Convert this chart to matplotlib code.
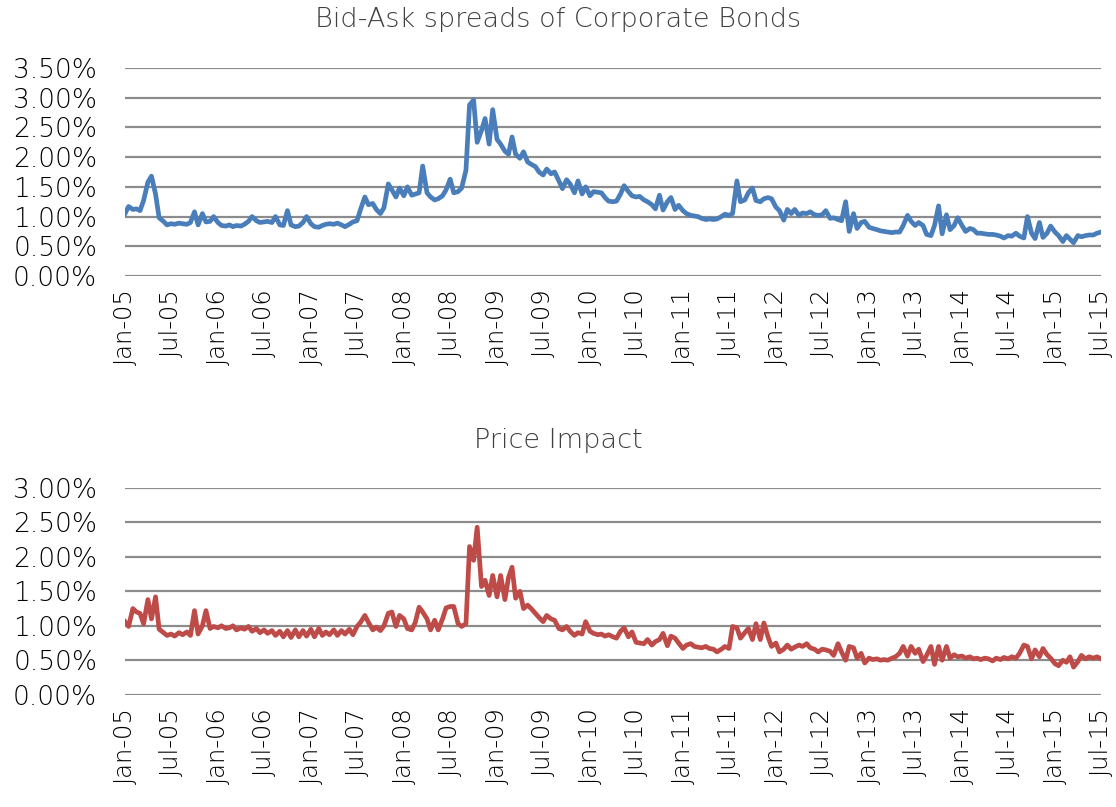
import numpy as np
import pandas as pd
import matplotlib
matplotlib.use("Agg")
import matplotlib.pyplot as plt
from matplotlib import font_manager
from matplotlib.ticker import FuncFormatter

# semi-monthly observations, Jan-05 .. Jul-15 (values in %)
dates = pd.date_range("2005-01-01", periods=253, freq="SMS")

bid_ask = [
    # 2005
    1.05, 1.17, 1.12, 1.13, 1.10, 1.27, 1.58, 1.68, 1.38, 0.98, 0.92, 0.86,
    0.88, 0.87, 0.89, 0.88, 0.87, 0.90, 1.08, 0.86, 1.05, 0.91, 0.92, 1.00,
    # 2006
    0.90, 0.85, 0.84, 0.86, 0.83, 0.85, 0.84, 0.87, 0.92, 1.00, 0.93, 0.90,
    0.91, 0.92, 0.90, 1.00, 0.86, 0.85, 1.10, 0.86, 0.83, 0.84, 0.90, 1.00,
    # 2007
    0.88, 0.83, 0.82, 0.85, 0.87, 0.88, 0.87, 0.89, 0.86, 0.83, 0.87, 0.91,
    0.93, 1.12, 1.33, 1.20, 1.22, 1.12, 1.05, 1.15, 1.55, 1.45, 1.33, 1.48,
    # 2008
    1.35, 1.50, 1.36, 1.38, 1.40, 1.85, 1.40, 1.33, 1.28, 1.30, 1.35, 1.45,
    1.63, 1.40, 1.42, 1.48, 1.78, 2.88, 2.96, 2.25, 2.45, 2.65, 2.22, 2.80,
    # 2009
    2.30, 2.22, 2.10, 2.05, 2.34, 2.05, 1.98, 2.09, 1.92, 1.88, 1.84, 1.75,
    1.70, 1.80, 1.72, 1.75, 1.60, 1.47, 1.62, 1.55, 1.40, 1.60, 1.38, 1.50,
    # 2010
    1.35, 1.42, 1.41, 1.40, 1.32, 1.26, 1.25, 1.26, 1.38, 1.52, 1.42, 1.35,
    1.33, 1.34, 1.28, 1.25, 1.20, 1.13, 1.36, 1.11, 1.25, 1.32, 1.12, 1.19,
    # 2011
    1.10, 1.05, 1.02, 1.01, 1.00, 0.97, 0.95, 0.96, 0.95, 0.96, 1.00, 1.04,
    1.02, 1.05, 1.60, 1.25, 1.28, 1.40, 1.48, 1.27, 1.25, 1.30, 1.32, 1.30,
    # 2012
    1.16, 1.10, 0.94, 1.12, 1.05, 1.12, 1.02, 1.06, 1.05, 1.08, 1.03, 1.02,
    1.03, 1.10, 0.97, 0.98, 0.95, 0.93, 1.25, 0.75, 1.05, 0.80, 0.90, 0.92,
    # 2013
    0.82, 0.80, 0.78, 0.76, 0.75, 0.74, 0.73, 0.74, 0.74, 0.85, 1.02, 0.92,
    0.85, 0.90, 0.85, 0.70, 0.68, 0.85, 1.18, 0.71, 1.03, 0.78, 0.85, 0.98,
    # 2014
    0.85, 0.75, 0.80, 0.78, 0.72, 0.72, 0.71, 0.70, 0.70, 0.69, 0.67, 0.64,
    0.68, 0.67, 0.72, 0.67, 0.64, 1.00, 0.72, 0.63, 0.90, 0.65, 0.72, 0.84,
    # 2015
    0.74, 0.68, 0.58, 0.68, 0.62, 0.56, 0.68, 0.66, 0.68, 0.69, 0.69, 0.72,
    0.74,
]

price_impact = [
    # 2005
    1.06, 0.99, 1.25, 1.20, 1.18, 1.03, 1.38, 1.10, 1.42, 0.95, 0.90, 0.86,
    0.88, 0.85, 0.90, 0.87, 0.91, 0.86, 1.22, 0.88, 1.00, 1.22, 0.96, 0.99,
    # 2006
    0.97, 1.00, 0.96, 0.97, 1.00, 0.94, 0.97, 0.95, 0.99, 0.92, 0.96, 0.90,
    0.94, 0.89, 0.93, 0.86, 0.92, 0.84, 0.93, 0.83, 0.94, 0.84, 0.93, 0.85,
    # 2007
    0.95, 0.84, 0.96, 0.86, 0.91, 0.87, 0.94, 0.86, 0.93, 0.88, 0.95, 0.87,
    0.99, 1.05, 1.15, 1.05, 0.94, 0.98, 0.93, 1.00, 1.18, 1.20, 0.99, 1.15,
    # 2008
    1.10, 0.96, 0.94, 1.05, 1.27, 1.20, 1.10, 0.94, 1.08, 0.94, 1.10, 1.26,
    1.28, 1.28, 1.03, 0.99, 1.03, 2.15, 1.95, 2.43, 1.57, 1.66, 1.44, 1.73,
    # 2009
    1.42, 1.73, 1.38, 1.70, 1.85, 1.40, 1.50, 1.25, 1.30, 1.25, 1.18, 1.12,
    1.06, 1.15, 1.10, 1.08, 0.96, 0.94, 0.99, 0.92, 0.86, 0.90, 0.88, 1.06,
    # 2010
    0.92, 0.89, 0.87, 0.88, 0.85, 0.87, 0.84, 0.82, 0.92, 0.97, 0.84, 0.91,
    0.76, 0.75, 0.74, 0.80, 0.72, 0.77, 0.80, 0.89, 0.71, 0.85, 0.82, 0.75,
    # 2011
    0.67, 0.72, 0.74, 0.70, 0.69, 0.68, 0.70, 0.67, 0.66, 0.62, 0.66, 0.70,
    0.67, 0.99, 0.97, 0.82, 0.90, 0.96, 0.80, 1.03, 0.80, 1.04, 0.84, 0.70,
    # 2012
    0.75, 0.62, 0.66, 0.72, 0.66, 0.69, 0.72, 0.70, 0.74, 0.68, 0.66, 0.62,
    0.66, 0.65, 0.63, 0.57, 0.74, 0.62, 0.50, 0.70, 0.68, 0.53, 0.60, 0.46,
    # 2013
    0.53, 0.51, 0.52, 0.50, 0.51, 0.50, 0.53, 0.55, 0.60, 0.70, 0.56, 0.70,
    0.60, 0.66, 0.48, 0.57, 0.70, 0.44, 0.70, 0.50, 0.70, 0.53, 0.58, 0.55,
    # 2014
    0.56, 0.53, 0.55, 0.52, 0.53, 0.51, 0.53, 0.52, 0.49, 0.53, 0.51, 0.54,
    0.52, 0.55, 0.53, 0.60, 0.72, 0.70, 0.52, 0.65, 0.55, 0.67, 0.58, 0.53,
    # 2015
    0.45, 0.42, 0.50, 0.47, 0.55, 0.40, 0.48, 0.57, 0.52, 0.55, 0.53, 0.55,
    0.52,
]

tick_dates = pd.date_range("2005-01-01", "2015-07-01", freq="6MS")
tick_labels = [d.strftime("%b-%y") for d in tick_dates]

titles = ["Bid-Ask spreads of Corporate Bonds", "Price Impact"]
colors = ["#4A7EBB", "#BE4B48"]
ymax = [3.5, 3.0]

# thin font if the light DejaVu face is around
light = font_manager.FontProperties(family="DejaVu Sans", weight=200)
wt = 200 if "Light" in font_manager.findfont(light) else "normal"
plt.rcParams["font.family"] = "DejaVu Sans"
plt.rcParams["font.weight"] = wt

fig = plt.figure(figsize=(11.16, 8.07), dpi=100)
ax1 = fig.add_axes([0.112, 0.658, 0.8746, 0.2577])
ax2 = fig.add_axes([0.112, 0.1392, 0.8746, 0.2561])

pct = FuncFormatter(lambda v, p: f"{v:.2f}%")
txt = "#000000"

for ax, vals, col, top in zip([ax1, ax2], [bid_ask, price_impact], colors, ymax):
    ax.plot(dates, vals, color=col, lw=3.4, solid_joinstyle="round", zorder=3)
    ax.set_xlim(tick_dates[0], tick_dates[-1])
    ax.set_ylim(0, top)
    ax.set_yticks(np.arange(0, top + 0.01, 0.5))
    ax.yaxis.set_major_formatter(pct)
    ax.grid(axis="y", color="#8c8c8c", lw=1.6)
    ax.set_axisbelow(True)
    for s in ax.spines.values():
        s.set_visible(False)
    ax.set_xticks(tick_dates)
    ax.set_xticklabels(tick_labels, rotation=90, ha="center", va="top")
    ax.tick_params(axis="y", length=0, labelsize=19, colors=txt, pad=20)
    ax.tick_params(axis="x", length=0, labelsize=17.5, colors=txt, pad=9)

# chart titles sit centred on the whole figure
fig.text(0.5, 1 - 20 / 807, titles[0], ha="center", va="center", fontsize=19.5, color="#404040")
fig.text(0.5, 1 - 440 / 807, titles[1], ha="center", va="center", fontsize=19.5, color="#404040")

fig.savefig("out.png", dpi=100)
